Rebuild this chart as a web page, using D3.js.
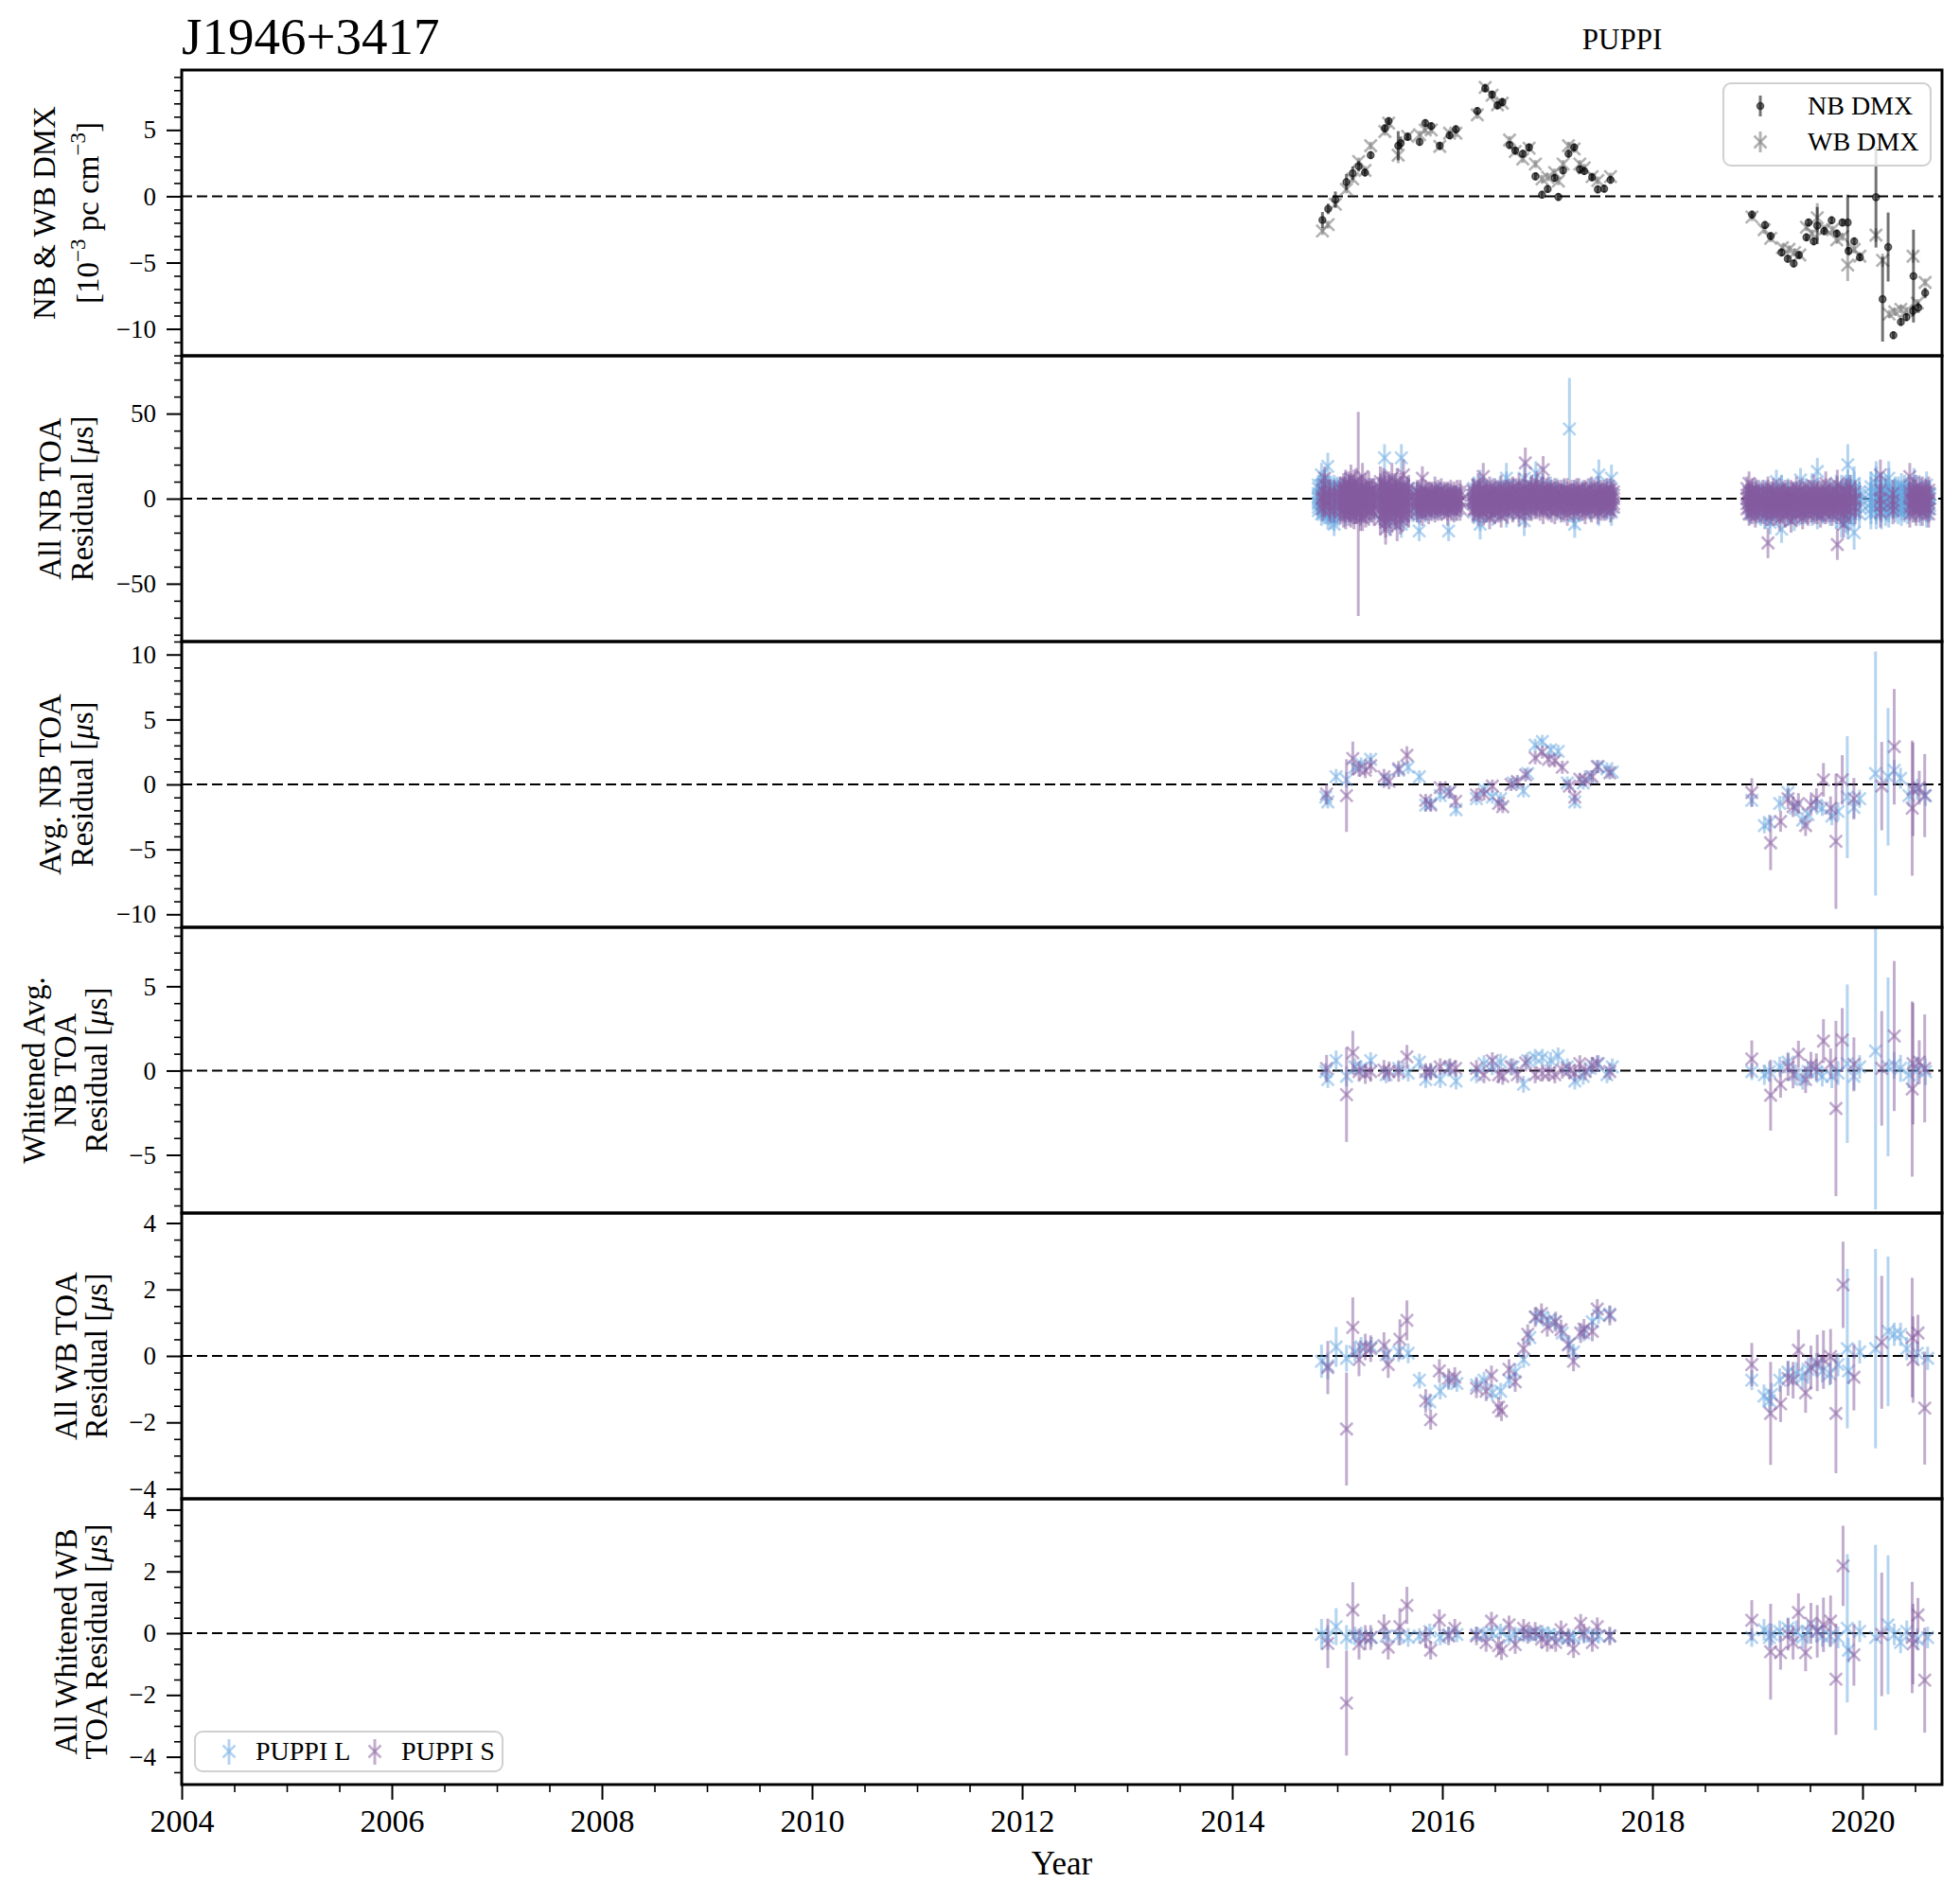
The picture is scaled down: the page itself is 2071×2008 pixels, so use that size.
<!DOCTYPE html>
<html><head><meta charset="utf-8">
<script src="https://cdn.jsdelivr.net/npm/d3@7"></script>
<style>
body{margin:0;background:#fff}
svg text{font-family:"Liberation Serif","Times New Roman",serif;fill:#000}
</style></head>
<body><svg id="c" width="2071" height="2008"></svg>
<script>
// ---------------- DATA ----------------
const pulsar = "J1946+3417";
const backendLabel = "PUPPI";
const seriesNames = ["PUPPI L", "PUPPI S"];
const dmxNames = ["NB DMX", "WB DMX"];
const xTickYears = [2004,2006,2008,2010,2012,2014,2016,2018,2020];

// DMX [year, value(1e-3 pc cm^-3), err]
const dmxNB = [
[2014.859,-1.79,0.6],[2014.913,-0.95,0.4],[2014.982,-0.24,0.6],[2015.087,1.07,0.6],[2015.147,1.74,0.5],[2015.204,2.26,0.4],[2015.264,1.79,0.3],[2015.318,3.10,0.3],[2015.453,5.12,0.3],[2015.489,5.67,0.3],[2015.580,3.81,1.1],[2015.604,4.00,0.5],[2015.670,4.48,0.3],[2015.784,4.10,0.3],[2015.838,5.52,0.3],[2015.895,5.29,0.3],[2015.976,3.81,0.3],[2016.069,4.60,0.3],[2016.129,5.05,0.3],[2016.333,6.43,0.3],[2016.408,8.14,0.3],[2016.474,7.67,0.3],[2016.525,6.86,0.3],[2016.571,7.10,0.3],[2016.640,3.86,0.3],[2016.694,3.45,0.3],[2016.766,3.21,0.3],[2016.826,3.69,0.3],[2016.886,1.50,0.3],[2016.949,0.12,0.3],[2017.003,0.55,0.3],[2017.069,1.38,0.3],[2017.105,-0.05,0.3],[2017.150,1.95,0.3],[2017.201,3.21,0.3],[2017.255,3.69,0.3],[2017.309,2.02,0.3],[2017.351,1.90,0.3],[2017.426,1.43,0.3],[2017.480,0.52,0.3],[2017.541,0.57,0.3],[2017.601,1.24,0.3],
[2018.948,-1.38,0.3],[2019.072,-2.17,0.3],[2019.126,-3.00,0.3],[2019.229,-4.24,0.3],[2019.288,-4.71,0.3],[2019.345,-5.07,0.3],[2019.395,-4.43,0.3],[2019.466,-3.10,0.3],[2019.486,-1.98,0.3],[2019.536,-3.40,0.3],[2019.569,-2.21,1.4],[2019.635,-2.62,0.3],[2019.706,-1.81,0.3],[2019.755,-2.81,0.3],[2019.809,-1.98,0.3],[2019.859,-1.98,2.1],[2019.867,-4.12,0.3],[2019.921,-3.40,0.3],[2019.975,-4.60,0.3],[2020.128,-0.07,3.8],[2020.191,-7.76,3.2],[2020.244,-3.83,2.6],[2020.294,-10.48,0.3],[2020.365,-9.48,0.3],[2020.418,-9.12,0.3],[2020.481,-8.64,0.4],[2020.485,-6.02,3.5],[2020.530,-8.40,0.4],[2020.596,-7.29,0.4]];
const dmxWB = [
[2014.859,-2.62,0.3],[2014.913,-2.14,0.3],[2014.982,-0.60,0.3],[2015.087,0.52,0.3],[2015.147,1.31,0.3],[2015.204,2.62,0.3],[2015.264,1.95,0.3],[2015.318,3.81,0.3],[2015.453,4.88,0.3],[2015.489,5.52,0.3],[2015.580,3.10,0.6],[2015.670,4.52,0.3],[2015.784,4.64,0.3],[2015.838,5.00,0.3],[2015.895,5.00,0.3],[2015.976,3.76,0.3],[2016.069,4.76,0.3],[2016.129,4.76,0.3],[2016.333,6.14,0.3],[2016.408,8.21,0.3],[2016.474,7.62,0.3],[2016.525,6.90,0.3],[2016.571,7.02,0.3],[2016.640,4.24,0.3],[2016.694,3.38,0.3],[2016.766,2.81,0.3],[2016.826,3.62,0.3],[2016.886,2.43,0.3],[2016.949,1.31,0.3],[2017.003,1.43,0.3],[2017.069,1.79,0.3],[2017.105,1.14,0.3],[2017.150,2.43,0.3],[2017.201,3.81,0.3],[2017.255,3.57,0.3],[2017.309,2.43,0.3],[2017.351,2.14,0.3],[2017.426,1.48,0.3],[2017.480,1.19,0.3],[2017.601,1.48,0.3],
[2018.948,-1.57,0.3],[2019.064,-2.52,0.3],[2019.126,-3.17,0.3],[2019.238,-3.88,0.3],[2019.300,-4.00,0.3],[2019.354,-4.24,0.3],[2019.403,-4.43,0.3],[2019.466,-2.33,0.3],[2019.519,-2.81,0.3],[2019.569,-1.62,1.1],[2019.644,-2.45,0.3],[2019.714,-2.52,0.3],[2019.755,-3.29,0.3],[2019.809,-3.05,0.3],[2019.859,-5.19,1.2],[2019.921,-4.00,0.3],[2019.975,-4.52,0.3],[2020.128,-2.93,0.5],[2020.191,-4.83,0.5],[2020.253,-8.88,0.3],[2020.306,-8.71,0.3],[2020.365,-8.52,0.3],[2020.418,-8.64,0.3],[2020.481,-4.52,0.5],[2020.522,-8.05,0.3],[2020.596,-6.50,0.3]];

// All NB TOA residuals (us): [epoch year, err, [residuals...]]
const nbAllL = [
[2014.82,6,[3,-2,6,-5,1,-7,8,-3,0]],[2014.85,7,[2,-4,8,-6,0,5,-9,3,14,-1]],[2014.88,7,[-1,4,-6,2,7,-8,1,-3,10]],[2014.91,8,[-3,5,19,-7,1,-2,6,-10,3,-5]],
[2014.94,7,[2,-5,4,-8,0,6,-2,-11,3]],[2014.97,7,[0,-8,4,-15,7,-3,2,-12,5,-1]],[2015.00,7,[1,-4,5,-7,3,-2,6,-9]],[2015.03,6,[3,-2,6,-5,1,-7,0,4]],
[2015.08,7,[-4,2,8,-9,0,5,-2]],[2015.15,7,[1,-6,7,-3,4,-8]],[2015.23,7,[2,-5,6,-8,3,-1]],[2015.32,7,[1,-3,5,-7,-2]],
[2015.42,8,[3,-5,6,-9,1]],[2015.45,8,[24,3,-6,8,-12,0]],[2015.50,8,[-2,6,-9,4,-14,1]],[2015.55,8,[1,-4,6,-8,3]],[2015.61,8,[24,-3,5,-8,2,-15]],[2015.67,7,[2,-5,6,-10,0]],
[2015.76,6,[-3,2,-6,4,-8,0]],[2015.78,6,[-19,0,-6,3,-9,-2]],[2015.84,6,[-2,-8,2,-5,1]],[2015.89,6,[-4,1,-7,3,-1]],[2015.95,6,[-2,3,-6,1]],[2015.98,6,[-3,2,-6,4,0]],[2016.06,6,[-19,-1,3,-5,1,-3]],[2016.13,6,[-4,1,-7,2,-2]],
[2016.30,7,[-3,4,-8,2,6,-1,0]],[2016.36,9,[-2,5,-10,8,-15,1]],[2016.42,7,[-1,4,-7,3,0,-4]],[2016.48,7,[0,-5,5,-9,2,-2]],[2016.55,7,[1,-4,6,-7,3,-1]],[2016.61,9,[-2,3,-8,7,12,0]],
[2016.67,7,[0,4,-6,2,-2,5]],[2016.73,7,[-1,5,-7,3,1]],[2016.78,9,[-13,-1,4,-5,12,2]],[2016.84,7,[3,-2,6,-6,1,4]],[2016.89,7,[4,1,7,-4,15,2]],[2016.95,7,[5,-1,3,8,-3,2]],
[2017.03,7,[3,-2,6,-5,1,4]],[2017.09,7,[2,-3,5,-6,1,0]],[2017.16,7,[1,-4,4,-7,0,2]],[2017.21,30,[41]],[2017.26,8,[-1,-5,3,-10,-15,1]],[2017.34,7,[0,4,-6,2,-3,1]],
[2017.41,7,[1,-4,5,-6,3]],[2017.49,9,[2,-3,14,-7,1,4]],[2017.56,7,[1,-4,5,-6,2,0]],[2017.61,8,[0,12,-5,3,-8,2]],
[2018.93,6,[-2,-9,3,-6,0]],[2018.99,7,[0,-5,4,-8,2,-2]],[2019.03,7,[-1,-6,3,-9,1,-3]],[2019.07,7,[-3,-8,1,-11,4,-5,0]],[2019.12,7,[-2,-7,2,-10,-14,0]],
[2019.18,7,[-1,-6,3,-9,10,-3]],[2019.23,8,[0,-5,4,-18,6,-2]],[2019.29,7,[-2,-7,2,-9,5,0]],[2019.35,7,[0,-6,3,-12,-3]],[2019.41,7,[-1,-5,4,-8,11,1]],
[2019.46,7,[0,-4,5,-8,-2]],[2019.52,7,[-2,-6,3,-9,8,0]],[2019.57,8,[0,-5,4,-10,16,-2]],[2019.63,7,[-1,-6,3,-8,1]],[2019.69,7,[0,-5,5,-9,2,-3]],
[2019.75,8,[-1,-7,3,-10,6,-4]],[2019.80,9,[-4,2,-8,5,-14,0]],[2019.84,10,[-3,4,-7,2,-10]],[2019.86,12,[20,-3,-9,5,-12,0]],[2019.89,9,[-2,3,-6,1,-9,5]],
[2019.92,10,[-20,-2,6,-6,9,0]],[2019.97,8,[0,-5,4,-9,-2,2]],
[2020.08,9,[-2,4,-6,7,-9,1,-3]],[2020.13,10,[5,-3,9,-8,12,0,-5,3]],[2020.18,9,[0,-5,4,-9,2,-3,6]],[2020.22,9,[-1,3,-7,5,-4,1]],[2020.25,10,[3,-4,8,-7,12,0,-2]],
[2020.31,8,[-1,4,-6,2,-3,5,0]],[2020.34,8,[1,-3,5,-7,3,-1]],[2020.37,8,[0,-5,3,-8,7,-2,2]],[2020.40,8,[-2,4,-6,1,-4,6]],[2020.43,8,[1,-4,5,-7,-1,3]],
[2020.49,8,[-2,3,-6,6,10,0]],[2020.55,8,[0,-5,4,-8,2,-2]],[2020.61,8,[-1,3,-6,8,-9,1]],[2020.64,7,[0,-4,3,-6,2]]];
const nbAllS = [
[2014.86,7,[1,-3,5,-6,0]],[2014.88,7,[3,-4,8,-2,12,0]],[2014.93,7,[0,-5,4,-7,2]],[2014.97,7,[-2,4,-7,1,-4]],[2015.03,7,[2,-5,6,-8,0,3]],
[2015.06,8,[-1,4,-6,7,-9,1,-3,5]],[2015.08,8,[0,-6,5,-10,9,3,-3,1]],[2015.11,8,[2,-4,6,-8,4,-1,8,-5]],[2015.13,8,[2,-4,7,-9,12,-1,4,-6]],
[2015.16,8,[-2,3,-7,6,-4,1,9,-10]],[2015.18,8,[-1,5,-7,10,-4,2,0,-6]],[2015.20,60,[-9]],[2015.22,8,[0,-5,4,-8,6,-2,2,-11]],
[2015.24,8,[1,-6,6,-11,13,-2,3]],[2015.27,8,[-1,3,-6,7,-4,2,-9]],[2015.30,8,[-2,4,-8,8,0,-5,2]],[2015.33,7,[1,-3,5,-7,3,-1]],[2015.35,7,[0,-5,5,-9,3,-2]],
[2015.41,9,[1,-7,6,-12,10,-3,4,-1]],[2015.44,9,[-2,3,-8,7,-5,1,9,-10]],[2015.46,9,[-4,-14,4,-9,8,-18,1,-2]],[2015.49,9,[0,-6,5,-10,2,-3,7,-1]],
[2015.52,9,[0,-6,6,-11,12,-2,3]],[2015.55,9,[-1,4,-7,6,-9,1,-4]],[2015.57,9,[-3,-16,3,-8,9,-1,1]],[2015.60,9,[1,-5,6,-9,4,-2,-12]],
[2015.63,9,[2,-5,7,-10,14,-1,0]],[2015.66,8,[-2,3,-6,5,-8,0]],[2015.68,8,[-1,-6,4,-9,6,1]],
[2015.76,7,[-3,1,-7,4,-1,-4]],[2015.79,7,[0,-4,3,-7,2,-2]],[2015.81,7,[0,-5,5,-9,12,-2]],[2015.84,7,[-2,2,-6,4,-4,0]],[2015.87,7,[-4,1,-8,3,-2,0]],
[2015.90,7,[-1,3,-6,2,-4]],[2015.93,7,[-2,3,-7,6,-5,0]],[2015.96,7,[0,-4,4,-6,1,-2]],[2015.99,7,[-3,2,-6,5,-1,0]],[2016.02,7,[-1,3,-5,2,-4]],
[2016.05,7,[-1,-6,3,-9,2,-3]],[2016.08,7,[-2,2,-6,4,0]],[2016.11,7,[-4,1,-7,3,-1]],[2016.14,7,[0,-3,4,-6,-2]],[2016.17,7,[-2,2,-6,4,-1]],
[2016.29,7,[-3,2,-7,5,-1,0]],[2016.31,7,[0,-4,3,-6,2,-2]],[2016.34,7,[-1,4,-6,8,-9,1]],[2016.36,7,[1,-3,5,-7,-1,3]],[2016.39,8,[0,-4,13,-8,5,-2]],
[2016.42,7,[-1,3,-5,4,-7,1]],[2016.45,7,[-2,3,-7,6,-11,0]],[2016.47,7,[0,-4,4,-6,2,-2]],[2016.50,7,[1,-4,5,-8,2,-1]],[2016.53,7,[-1,3,-5,4,-7,0]],
[2016.56,7,[-1,3,-6,7,-10,1]],[2016.59,7,[0,-3,4,-6,2]],[2016.62,7,[0,-4,4,-8,2,-1]],[2016.64,7,[1,-2,5,-5,3]],[2016.67,7,[1,-3,6,-7,3,0]],
[2016.70,7,[-1,2,-5,5,-3]],[2016.73,7,[-1,4,-5,8,-9,1]],[2016.76,7,[0,-3,5,-6,2]],[2016.79,9,[21,2,-3,6,-8,0]],[2016.82,7,[1,-3,4,-6,3]],
[2016.85,7,[2,-3,7,-6,4,0]],[2016.88,7,[1,-2,5,-5,3]],[2016.90,7,[3,-2,6,-5,9,1]],[2016.93,7,[0,-4,4,-6,2]],[2016.96,8,[17,2,-3,5,-7,0]],
[2016.99,7,[1,-3,5,-5,3]],[2017.01,7,[2,-4,6,-6,0,3]],[2017.04,7,[0,-3,4,-7,2]],[2017.07,7,[1,-3,5,-8,3,-1]],[2017.10,7,[-1,3,-5,4,-2]],
[2017.13,7,[0,-5,4,-7,2,1]],[2017.16,7,[1,-3,5,-6,-1]],[2017.19,7,[-1,3,-6,5,-9,0]],[2017.22,7,[0,-3,4,-5,2]],[2017.25,7,[0,-4,4,-7,2]],
[2017.28,7,[-1,3,-5,5,-2]],[2017.30,7,[1,-3,5,-6,2,0]],[2017.33,7,[0,-4,3,-6,2]],[2017.36,7,[0,-5,4,-8,3,-1]],[2017.39,7,[1,-2,5,-5,-1]],
[2017.42,7,[1,-3,6,-7,2,0]],[2017.45,7,[-1,3,-5,4,-2]],[2017.48,7,[-1,3,-5,6,-8,1]],[2017.51,7,[0,-3,4,-6,2]],[2017.54,7,[0,-4,4,-6,2,-1]],
[2017.57,7,[1,-2,5,-5,3]],[2017.60,7,[1,-3,5,-7,3,0]],[2017.63,7,[0,-3,4,-5,2]],
[2018.90,7,[2,-3,6,-6,0]],[2018.92,7,[9,0,-5,4,-9,-2,2]],[2018.95,7,[-1,3,-6,5,-8,1]],[2018.98,7,[-2,3,-7,5,-10,0]],[2019.01,7,[1,-4,4,-7,-1]],
[2019.05,7,[0,-5,4,-8,2,-2]],[2019.08,7,[-2,3,-6,2,-9]],[2019.10,9,[-26,-3,2,-7,4,0]],[2019.13,7,[-1,-5,3,-8,1]],[2019.15,7,[-1,-6,3,-9,5,0]],
[2019.18,7,[0,-4,4,-7,-2]],[2019.21,7,[0,-4,5,-8,-12,-1]],[2019.24,7,[-1,-5,3,-7,2]],[2019.26,7,[-2,-7,2,-10,4,0]],[2019.29,7,[0,-4,4,-7,-2]],
[2019.32,7,[0,-5,4,-8,-13,-1]],[2019.34,7,[-1,-5,3,-8,2]],[2019.37,7,[-1,-6,3,-9,6,0]],[2019.40,7,[0,-4,4,-7,-2]],[2019.43,7,[0,-4,5,-8,-11,-1]],
[2019.45,7,[-1,-5,3,-7,2]],[2019.48,7,[-2,-6,2,-9,4,0]],[2019.51,7,[0,-4,4,-7,-2]],[2019.54,7,[0,-5,4,-8,7,-1]],[2019.57,7,[-1,-5,3,-8,2]],
[2019.60,7,[-1,-6,3,-10,0]],[2019.62,7,[0,-4,4,-7,-2]],[2019.65,7,[0,-4,5,-8,9,-1]],[2019.68,7,[-1,-5,3,-7,2]],[2019.71,7,[-2,-6,3,-9,0]],
[2019.73,7,[0,-4,4,-7,-2]],[2019.76,9,[-27,-1,4,-6,8,0]],[2019.79,7,[-1,-5,3,-8,2]],[2019.82,8,[0,-5,5,-9,-15,-1]],[2019.85,8,[-1,3,-6,4,-3]],
[2019.88,8,[-2,3,-7,6,0]],[2019.93,7,[0,-5,4,-8,-1]],
[2020.17,9,[14,0,-4,5,-8]],[2020.29,8,[-4,-1,3,-7]],[2020.45,8,[13,0,-5,4,-9,2]],[2020.48,8,[-2,3,-6,5,-1]],[2020.51,8,[-1,-6,3,-8,6,0]],
[2020.54,8,[1,-3,5,-6,-1]],[2020.57,8,[0,-4,5,-8,2]],[2020.60,8,[-1,3,-5,4,-3]],[2020.63,8,[-2,3,-6,5,-9,0]]];

// Epoch-averaged NB residuals (us): [year, residual, err]; whitened values aligned by index
const avgL = [
[2014.890,-0.98,0.5],[2014.910,-1.35,0.5],[2014.989,0.59,0.6],[2015.088,0.35,0.6],[2015.168,1.32,0.5],[2015.227,1.57,0.5],[2015.318,1.93,0.5],[2015.465,0.35,0.5],[2015.584,1.08,0.5],[2015.675,1.32,0.5],[2015.782,0.59,0.5],[2015.842,-1.59,0.5],[2015.889,-1.47,0.5],[2015.980,-0.86,0.5],[2016.060,-0.62,0.5],[2016.131,-1.95,0.5],[2016.325,-1.10,0.5],[2016.397,-0.38,0.5],[2016.476,-0.98,0.5],[2016.555,-1.10,0.5],[2016.674,0.11,0.5],[2016.773,-0.50,0.5],[2016.813,0.84,0.5],[2016.884,3.02,0.5],[2016.952,3.31,0.5],[2017.031,2.66,0.5],[2017.103,2.54,0.5],[2017.190,0.11,0.5],[2017.261,-1.35,0.5],[2017.341,0.11,0.5],[2017.408,0.59,0.5],[2017.487,1.37,0.5],[2017.567,1.20,0.5],[2017.618,0.96,0.5],
[2018.946,-1.23,0.5],[2019.066,-3.17,0.6],[2019.113,-2.92,0.6],[2019.212,-1.47,0.6],[2019.291,-0.62,0.6],[2019.363,-1.83,0.6],[2019.430,-2.75,0.6],[2019.482,-2.32,0.6],[2019.561,-1.59,0.6],[2019.617,-1.83,0.6],[2019.708,-2.44,0.7],[2019.767,-2.08,0.7],[2019.855,-0.98,4.7],[2019.918,-1.78,0.8],[2019.973,-1.10,0.7],[2020.124,0.84,9.4],[2020.243,0.59,5.3],[2020.302,1.08,0.8],[2020.362,0.47,0.8],[2020.442,-0.86,0.8],[2020.521,-0.38,0.8],[2020.600,-0.86,0.8]];
const avgL_white = [-0.06,-0.53,0.59,-0.34,0.22,0.13,0.59,-0.25,0.13,-0.15,0.50,-0.53,-0.06,-0.53,0.13,-0.62,-0.25,0.41,0.22,0.50,0.22,-0.81,0.59,0.78,0.78,0.59,0.87,0.22,-0.62,-0.34,0.13,0.41,-0.25,0.22,
-0.06,-0.25,-0.06,0.22,0.50,-0.25,-0.53,-0.06,-0.06,-0.34,-0.34,-0.15,0.41,-0.34,0.22,1.16,0.22,0.31,0.13,-0.25,0.03,-0.06];
const avgS = [
[2014.898,-0.74,0.8],[2015.088,-0.86,2.8],[2015.148,2.00,1.3],[2015.207,1.20,0.6],[2015.267,1.08,0.6],[2015.318,1.44,0.6],[2015.445,0.59,0.6],[2015.493,0.23,0.6],[2015.584,1.20,0.6],[2015.663,2.24,0.7],[2015.842,-1.23,0.5],[2015.889,-1.59,0.5],[2015.980,-0.25,0.5],[2016.072,-0.57,0.5],[2016.127,-1.30,0.5],[2016.325,-0.81,0.5],[2016.397,-0.74,0.5],[2016.476,-0.13,0.5],[2016.536,-1.47,0.5],[2016.575,-1.71,0.5],[2016.654,-0.01,0.5],[2016.714,0.23,0.5],[2016.793,0.72,0.5],[2016.884,2.05,0.5],[2016.952,2.49,0.5],[2017.011,1.93,0.5],[2017.071,1.81,0.5],[2017.142,1.32,0.5],[2017.210,-0.13,0.5],[2017.261,-0.98,0.5],[2017.309,0.40,0.5],[2017.360,0.35,0.5],[2017.428,0.59,0.5],[2017.475,1.37,0.5],[2017.594,0.89,0.5],
[2018.946,-0.62,1.1],[2019.125,-4.50,2.1],[2019.220,-2.85,0.8],[2019.291,-1.10,0.8],[2019.339,-1.71,0.8],[2019.390,-1.47,0.8],[2019.458,-3.17,0.8],[2019.509,-1.59,0.8],[2019.561,-1.10,0.8],[2019.628,0.35,1.3],[2019.696,-1.83,0.9],[2019.747,-4.38,5.2],[2019.807,0.35,1.9],[2019.918,-1.10,1.6],[2020.183,-0.13,3.4],[2020.302,2.90,4.45],[2020.473,-1.83,5.2],[2020.481,-0.38,3.6],[2020.540,-0.25,1.3],[2020.592,-0.86,3.2]];
const avgS_white = [0.13,-1.43,1.06,-0.06,-0.19,-0.06,0.03,-0.06,-0.06,0.82,-0.06,-0.06,0.22,0.22,0.13,0.13,-0.25,0.59,-0.25,-0.34,0.22,-0.25,0.45,-0.25,-0.15,-0.15,-0.25,0.03,0.03,-0.15,0.41,-0.06,0.31,0.41,-0.06,
0.69,-1.46,-0.81,0.22,-0.25,0.97,-0.53,0.31,0.22,1.75,0.41,-2.25,1.81,0.37,0.13,2.05,-1.09,0.41,0.50,0.13];

// WB residuals (us): [year, residual, err]; whitened aligned by index
const wbL = [
[2014.850,-0.16,0.5],[2014.910,-0.30,0.4],[2014.989,0.27,0.6],[2015.088,-0.07,0.4],[2015.168,0.12,0.3],[2015.227,0.27,0.3],[2015.326,0.27,0.3],[2015.465,0.03,0.3],[2015.584,0.12,0.3],[2015.675,0.08,0.3],[2015.782,-0.73,0.25],[2015.881,-1.38,0.25],[2015.980,-1.06,0.25],[2016.060,-0.78,0.25],[2016.139,-0.83,0.25],[2016.325,-0.87,0.25],[2016.397,-0.73,0.25],[2016.476,-1.11,0.25],[2016.555,-1.06,0.25],[2016.635,-0.73,0.25],[2016.694,-0.49,0.25],[2016.774,-0.11,0.25],[2016.833,0.55,0.25],[2016.893,1.17,0.25],[2016.952,1.17,0.25],[2017.011,1.07,0.25],[2017.071,1.03,0.25],[2017.142,0.69,0.25],[2017.210,0.36,0.25],[2017.249,0.12,0.25],[2017.348,0.69,0.25],[2017.428,1.03,0.25],[2017.487,1.22,0.25],[2017.594,1.26,0.25],
[2018.946,-0.73,0.3],[2019.062,-1.21,0.35],[2019.113,-1.35,0.35],[2019.133,-1.16,0.35],[2019.212,-0.73,0.35],[2019.291,-0.49,0.35],[2019.371,-0.54,0.35],[2019.430,-0.64,0.35],[2019.482,-0.40,0.35],[2019.561,-0.26,0.35],[2019.617,-0.45,0.35],[2019.688,-0.54,0.35],[2019.767,-0.26,0.35],[2019.855,0.22,2.4],[2019.866,-0.45,0.4],[2019.973,0.12,0.35],[2020.124,0.22,3.0],[2020.243,0.74,2.25],[2020.302,0.65,0.35],[2020.362,0.65,0.35],[2020.421,0.22,0.35],[2020.521,0.08,0.35],[2020.620,-0.07,0.35]];
const wbL_white = [-0.04,-0.14,0.21,-0.14,-0.09,-0.09,-0.14,-0.09,-0.09,-0.14,-0.09,0.06,-0.14,-0.04,-0.04,-0.04,-0.04,0.01,0.06,-0.14,-0.04,-0.04,-0.04,-0.04,0.01,-0.04,-0.09,-0.14,-0.14,-0.14,-0.09,-0.09,-0.09,-0.09,
-0.14,0.11,-0.14,-0.04,0.06,0.16,0.06,-0.14,0.06,0.06,-0.09,-0.09,-0.14,0.16,-0.55,0.06,-0.14,0.27,-0.04,-0.30,0.06,-0.19,-0.14];
const wbS = [
[2014.910,-0.35,0.8],[2015.088,-2.20,1.7],[2015.148,0.86,0.9],[2015.207,-0.11,0.5],[2015.267,0.27,0.4],[2015.318,0.22,0.4],[2015.445,0.31,0.4],[2015.485,-0.26,0.4],[2015.596,0.50,0.6],[2015.663,1.07,0.6],[2015.842,-1.35,0.35],[2015.889,-1.92,0.3],[2015.972,-0.45,0.35],[2016.060,-0.68,0.3],[2016.119,-0.64,0.3],[2016.325,-0.97,0.3],[2016.417,-1.06,0.3],[2016.468,-0.59,0.3],[2016.536,-1.54,0.3],[2016.563,-1.66,0.3],[2016.635,-0.40,0.3],[2016.694,-0.78,0.3],[2016.774,0.22,0.3],[2016.813,0.65,0.3],[2016.884,1.17,0.3],[2016.944,1.28,0.3],[2016.999,0.88,0.3],[2017.079,1.03,0.3],[2017.130,0.79,0.3],[2017.198,0.33,0.3],[2017.249,-0.16,0.3],[2017.317,0.69,0.3],[2017.348,0.81,0.3],[2017.428,0.74,0.3],[2017.475,1.41,0.3],[2017.594,1.22,0.3],
[2018.946,-0.26,0.65],[2019.125,-1.73,1.55],[2019.220,-1.44,0.55],[2019.291,-0.68,0.52],[2019.339,-0.73,0.55],[2019.390,0.17,0.62],[2019.458,-1.11,0.6],[2019.509,-0.35,0.66],[2019.569,-0.21,0.85],[2019.628,-0.11,0.88],[2019.696,-0.02,0.83],[2019.747,-1.73,1.8],[2019.815,2.14,1.3],[2019.918,-0.64,1.0],[2020.183,0.41,2.0],[2020.473,0.55,1.8],[2020.481,-0.11,1.3],[2020.528,0.69,0.55],[2020.592,-1.57,1.7]];
const wbS_white = [-0.33,-2.26,0.75,-0.35,-0.14,-0.14,0.21,-0.45,0.21,0.90,-0.14,-0.55,0.42,-0.09,0.16,-0.09,-0.30,0.39,-0.40,-0.57,0.27,-0.37,0.16,-0.04,0.06,-0.19,-0.30,-0.30,0.11,-0.14,-0.50,0.32,0.01,-0.30,0.21,-0.09,
0.42,-0.60,-0.63,-0.04,-0.30,0.67,-0.63,0.32,0.06,0.27,0.39,-1.49,2.18,-0.70,-0.04,-0.14,-0.35,0.59,-1.52];

// ---------------- LAYOUT / STYLE ----------------
const X0 = 192, X1 = 2052, PH = 302;
const panelTops = [74, 376, 678, 980, 1282, 1584];
const colL = "#6BA9E2", colS = "#855CA0", alphaRes = 0.5;
const svg = d3.select("#c");
const x = d3.scaleLinear().domain([2004, 2004 + (X1 - X0) / 111]).range([X0, X1]);

const panels = [
  {dom:[-12.03, 9.52], major:5, minor:1,
   lines:[[{t:"NB & WB DMX"}],[{t:"[10"},{t:"−3",sup:1},{t:" pc cm"},{t:"−3",sup:1},{t:"]"}]], bx:[58,104]},
  {dom:[-84, 84], major:50, minor:10,
   lines:[[{t:"All NB TOA"}],[{t:"Residual ["},{t:"μ",it:1},{t:"s]"}]], bx:[64,98]},
  {dom:[-11, 11], major:5, minor:1,
   lines:[[{t:"Avg. NB TOA"}],[{t:"Residual ["},{t:"μ",it:1},{t:"s]"}]], bx:[64,98]},
  {dom:[-8.45, 8.5], major:5, minor:1,
   lines:[[{t:"Whitened Avg."}],[{t:"NB TOA"}],[{t:"Residual ["},{t:"μ",it:1},{t:"s]"}]], bx:[47,80,113]},
  {dom:[-4.3, 4.3], major:2, minor:0.5,
   lines:[[{t:"All WB TOA"}],[{t:"Residual ["},{t:"μ",it:1},{t:"s]"}]], bx:[81,113]},
  {dom:[-4.9, 4.35], major:2, minor:0.5,
   lines:[[{t:"All Whitened WB"}],[{t:"TOA Residual ["},{t:"μ",it:1},{t:"s]"}]], bx:[81,113]}
];

function stepVals(dom, step){
  const a = Math.ceil(dom[0]/step - 1e-9), b = Math.floor(dom[1]/step + 1e-9);
  return d3.range(a, b+1).map(k => +(k*step).toFixed(6));
}
const xPath = s => `M${-s},${-s}L${s},${s}M${-s},${s}L${s},${-s}`;

function drawSeries(g, y, rows, color, op, kind){
  g.append("g").selectAll("line").data(rows).join("line")
    .attr("x1", d => x(d[0])).attr("x2", d => x(d[0]))
    .attr("y1", d => y(d[1] - d[2])).attr("y2", d => y(d[1] + d[2]))
    .attr("stroke", color).attr("stroke-opacity", op).attr("stroke-width", 3);
  if (kind === "o") {
    g.append("g").selectAll("circle").data(rows).join("circle")
      .attr("cx", d => x(d[0])).attr("cy", d => y(d[1])).attr("r", 3.6)
      .attr("fill", color).attr("fill-opacity", op)
      .attr("stroke", color).attr("stroke-opacity", op).attr("stroke-width", 1.4);
  } else {
    g.append("g").selectAll("path").data(rows).join("path")
      .attr("transform", d => `translate(${x(d[0])},${y(d[1])})`)
      .attr("d", xPath(6.5))
      .attr("fill", "none").attr("stroke", color).attr("stroke-opacity", op).attr("stroke-width", 2.6);
  }
}

const defs = svg.append("defs");
panels.forEach((p, i) => {
  const top = panelTops[i];
  const y = d3.scaleLinear().domain(p.dom).range([top + PH, top]);
  defs.append("clipPath").attr("id", "clip" + i).append("rect")
    .attr("x", X0).attr("y", top).attr("width", X1 - X0).attr("height", PH);

  const majors = stepVals(p.dom, p.major);
  const minors = stepVals(p.dom, p.minor).filter(v => !majors.some(m => Math.abs(m - v) < 1e-6));
  const gMin = svg.append("g").attr("transform", `translate(${X0},0)`)
    .call(d3.axisLeft(y).tickValues(minors).tickSize(8).tickFormat(""));
  gMin.select(".domain").remove();
  gMin.selectAll("line").attr("stroke-width", 1.6);
  const gMaj = svg.append("g").attr("transform", `translate(${X0},0)`)
    .call(d3.axisLeft(y).tickValues(majors).tickSize(16).tickPadding(11).tickFormat(d3.format("d")));
  gMaj.select(".domain").remove();
  gMaj.selectAll("line").attr("stroke-width", 2);
  gMaj.selectAll("text").attr("font-size", 27).attr("font-family", "'Liberation Serif',serif");

  const cy = top + PH / 2;
  p.lines.forEach((segs, li) => {
    const t = svg.append("text").attr("transform", `translate(${p.bx[li]},${cy}) rotate(-90)`)
      .attr("text-anchor", "middle").attr("font-size", 33);
    let shifted = false;
    segs.forEach(s => {
      const ts = t.append("tspan").text(s.t);
      if (s.it) ts.attr("font-style", "italic");
      if (s.sup) { ts.attr("font-size", 23).attr("dy", -14); shifted = true; }
      else if (shifted) { ts.attr("dy", 14); shifted = false; }
    });
  });

  const g = svg.append("g").attr("clip-path", `url(#clip${i})`);
  g.append("line").attr("x1", X0).attr("x2", X1).attr("y1", y(0)).attr("y2", y(0))
    .attr("stroke", "#000").attr("stroke-width", 2).attr("stroke-dasharray", "11,5");
  if (i === 0) {
    drawSeries(g, y, dmxWB, "#808080", 0.6, "x");
    drawSeries(g, y, dmxNB, "#000000", 0.55, "o");
  } else if (i === 1) {
    const flat = arr => arr.flatMap(e => e[2].map(v => [e[0], v, e[1]]));
    drawSeries(g, y, flat(nbAllL), colL, alphaRes, "x");
    drawSeries(g, y, flat(nbAllS), colS, alphaRes, "x");
  } else if (i === 2) {
    drawSeries(g, y, avgL, colL, alphaRes, "x");
    drawSeries(g, y, avgS, colS, alphaRes, "x");
  } else if (i === 3) {
    drawSeries(g, y, avgL.map((d, k) => [d[0], avgL_white[k], d[2]]), colL, alphaRes, "x");
    drawSeries(g, y, avgS.map((d, k) => [d[0], avgS_white[k], d[2]]), colS, alphaRes, "x");
  } else if (i === 4) {
    drawSeries(g, y, wbL, colL, alphaRes, "x");
    drawSeries(g, y, wbS, colS, alphaRes, "x");
  } else {
    drawSeries(g, y, wbL.map((d, k) => [d[0], wbL_white[k], d[2]]), colL, alphaRes, "x");
    drawSeries(g, y, wbS.map((d, k) => [d[0], wbS_white[k], d[2]]), colS, alphaRes, "x");
  }
});

panelTops.forEach(top => {
  svg.append("rect").attr("x", X0).attr("y", top).attr("width", X1 - X0).attr("height", PH)
    .attr("fill", "none").attr("stroke", "#000").attr("stroke-width", 3);
});

// x axis (bottom panel)
const yBot = panelTops[5] + PH;
const xMinor = d3.range(2004, 2021, 0.5).filter(v => v % 2 !== 0 && v <= x.domain()[1]);
const gxm = svg.append("g").attr("transform", `translate(0,${yBot})`)
  .call(d3.axisBottom(x).tickValues(xMinor).tickSize(8).tickFormat(""));
gxm.select(".domain").remove();
gxm.selectAll("line").attr("stroke-width", 1.6);
const gx = svg.append("g").attr("transform", `translate(0,${yBot})`)
  .call(d3.axisBottom(x).tickValues(xTickYears).tickSize(16).tickPadding(10).tickFormat(d3.format("d")));
gx.select(".domain").remove();
gx.selectAll("line").attr("stroke-width", 2);
gx.selectAll("text").attr("font-size", 34).attr("font-family", "'Liberation Serif',serif");
svg.append("text").attr("x", (X0 + X1) / 2).attr("y", 1981).attr("text-anchor", "middle")
  .attr("font-size", 35).text("Year");

svg.append("text").attr("x", X0).attr("y", 57).attr("font-size", 55).text(pulsar);
svg.append("text").attr("x", 1714).attr("y", 52).attr("text-anchor", "middle").attr("font-size", 31).text(backendLabel);

// legend: DMX
const lg1 = svg.append("g");
lg1.append("rect").attr("x", 1821).attr("y", 88).attr("width", 219).attr("height", 87).attr("rx", 8)
  .attr("fill", "#fff").attr("fill-opacity", 0.8).attr("stroke", "#d0d0d0").attr("stroke-width", 2);
[[dmxNames[0], "#000", 0.55, "o", 112], [dmxNames[1], "#808080", 0.6, "x", 150]].forEach(e => {
  lg1.append("line").attr("x1", 1860).attr("x2", 1860).attr("y1", e[4] - 11).attr("y2", e[4] + 11)
    .attr("stroke", e[1]).attr("stroke-opacity", e[2]).attr("stroke-width", 3);
  if (e[3] === "o") lg1.append("circle").attr("cx", 1860).attr("cy", e[4]).attr("r", 3.6)
    .attr("fill", e[1]).attr("fill-opacity", e[2]).attr("stroke", e[1]).attr("stroke-opacity", e[2]).attr("stroke-width", 1.4);
  else lg1.append("path").attr("transform", `translate(1860,${e[4]})`).attr("d", xPath(6.5))
    .attr("fill", "none").attr("stroke", e[1]).attr("stroke-opacity", e[2]).attr("stroke-width", 2.6);
  lg1.append("text").attr("x", 1910).attr("y", e[4] + 9).attr("font-size", 28).text(e[0]);
});

// legend: receivers
const lg2 = svg.append("g");
lg2.append("rect").attr("x", 206).attr("y", 1830).attr("width", 325).attr("height", 42).attr("rx", 8)
  .attr("fill", "#fff").attr("fill-opacity", 0.8).attr("stroke", "#d0d0d0").attr("stroke-width", 2);
[[seriesNames[0], colL, 242], [seriesNames[1], colS, 396]].forEach(e => {
  lg2.append("line").attr("x1", e[2]).attr("x2", e[2]).attr("y1", 1838).attr("y2", 1865)
    .attr("stroke", e[1]).attr("stroke-opacity", alphaRes).attr("stroke-width", 3);
  lg2.append("path").attr("transform", `translate(${e[2]},1851)`).attr("d", xPath(6.5))
    .attr("fill", "none").attr("stroke", e[1]).attr("stroke-opacity", alphaRes).attr("stroke-width", 2.6);
  lg2.append("text").attr("x", e[2] + 28).attr("y", 1860).attr("font-size", 28).text(e[0]);
});
</script></body></html>
